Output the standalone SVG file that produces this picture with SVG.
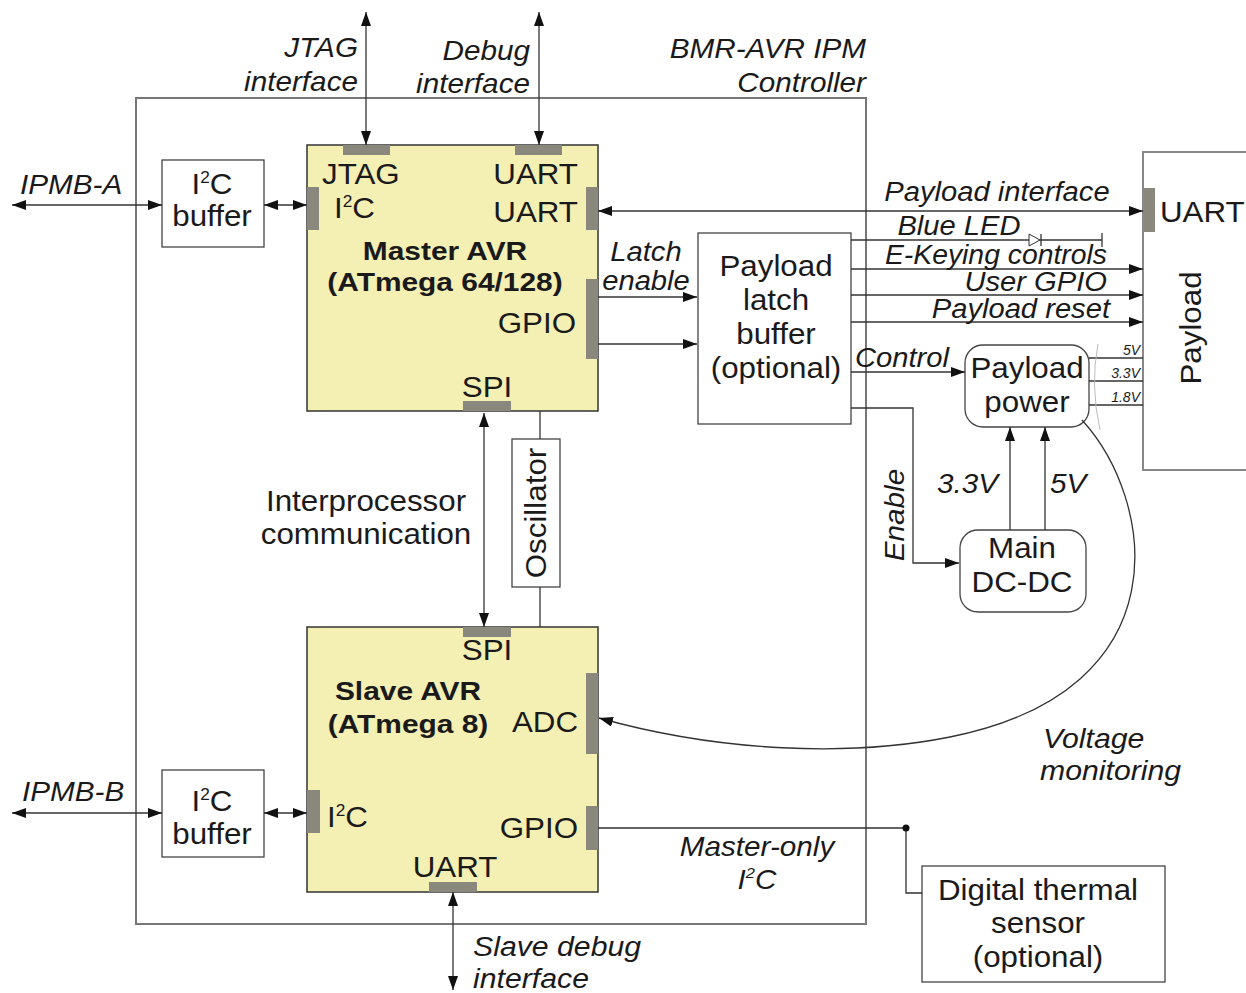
<svg xmlns="http://www.w3.org/2000/svg" width="1246" height="993" viewBox="0 0 1246 993">
<style>
.ln{stroke:#333;stroke-width:1.3;fill:none}
.box{stroke:#444;stroke-width:1.3;fill:#fff}
.outer{stroke:#777;stroke-width:2;fill:none}
.avr{stroke:#333;stroke-width:1.5;fill:#f4efb3}
.pad{fill:#8a877c}
text{font-family:"Liberation Sans",Arial,sans-serif;fill:#1a1a1a}
.r{font-size:29px}
.b{font-size:26px;font-weight:bold}
.i{font-size:27px;font-style:italic}
.s{font-size:14px;font-style:italic}
.m{text-anchor:middle}
.e{text-anchor:end}
</style>
<defs>
<marker id="a" viewBox="0 0 14 10" refX="14" refY="5" markerWidth="14" markerHeight="10" markerUnits="userSpaceOnUse" orient="auto-start-reverse">
<path d="M0,0 L14,5 L0,10 z" fill="#111"/>
</marker>
</defs>
<rect width="1246" height="993" fill="#fff"/>

<g id="controller">
<rect class="outer" x="136" y="98" width="730" height="826"/>
<text class="i e" transform="translate(866 58) scale(1.1 1)">BMR-AVR IPM</text>
<text class="i e" transform="translate(866 92) scale(1.1 1)">Controller</text>
</g>

<g id="master">
<rect class="avr" x="307" y="145" width="291" height="266"/>
<rect class="pad" x="343" y="145" width="47" height="10"/>
<rect class="pad" x="515" y="145" width="47" height="10"/>
<rect class="pad" x="307" y="187" width="12" height="43"/>
<rect class="pad" x="586" y="187" width="12" height="43"/>
<rect class="pad" x="586" y="279" width="12" height="80"/>
<rect class="pad" x="463" y="401" width="48" height="10"/>
<text class="r" transform="translate(322 184) scale(1.08 1)">JTAG</text>
<text class="r" transform="translate(334 218) scale(1.08 1)">I<tspan font-size="16" dy="-11">2</tspan><tspan dy="11">C</tspan></text>
<text class="r e" transform="translate(578 184) scale(1.08 1)">UART</text>
<text class="r e" transform="translate(578 222) scale(1.08 1)">UART</text>
<text class="b m" transform="translate(445 260) scale(1.15 1)">Master AVR</text>
<text class="b m" transform="translate(445 291) scale(1.15 1)">(ATmega 64/128)</text>
<text class="r e" transform="translate(576 333) scale(1.08 1)">GPIO</text>
<text class="r m" transform="translate(487 397) scale(1.08 1)">SPI</text>
</g>

<g id="slave">
<rect class="avr" x="307" y="627" width="291" height="265"/>
<rect class="pad" x="463" y="627" width="48" height="10"/>
<rect class="pad" x="586" y="673" width="12" height="81"/>
<rect class="pad" x="307" y="790" width="13" height="43"/>
<rect class="pad" x="586" y="806" width="12" height="44"/>
<rect class="pad" x="429" y="882" width="48" height="10"/>
<text class="r m" transform="translate(487 660) scale(1.08 1)">SPI</text>
<text class="b m" transform="translate(408 700) scale(1.15 1)">Slave AVR</text>
<text class="b m" transform="translate(408 733) scale(1.15 1)">(ATmega 8)</text>
<text class="r e" transform="translate(578 732) scale(1.08 1)">ADC</text>
<text class="r" transform="translate(327 827) scale(1.08 1)">I<tspan font-size="16" dy="-11">2</tspan><tspan dy="11">C</tspan></text>
<text class="r e" transform="translate(578 838) scale(1.08 1)">GPIO</text>
<text class="r m" transform="translate(455 877) scale(1.08 1)">UART</text>
</g>

<g id="i2c-buffer-a">
<rect class="box" x="162" y="160" width="102" height="87"/>
<text class="r m" transform="translate(212 194) scale(1.08 1)">I<tspan font-size="16" dy="-11">2</tspan><tspan dy="11">C</tspan></text>
<text class="r m" transform="translate(212 226) scale(1.08 1)">buffer</text>
</g>

<g id="i2c-buffer-b">
<rect class="box" x="162" y="770" width="102" height="87"/>
<text class="r m" transform="translate(212 811) scale(1.08 1)">I<tspan font-size="16" dy="-11">2</tspan><tspan dy="11">C</tspan></text>
<text class="r m" transform="translate(212 844) scale(1.08 1)">buffer</text>
</g>

<g id="oscillator">
<rect class="box" x="512" y="439" width="48" height="148"/>
<text class="r m" transform="translate(546 513) rotate(-90) scale(1.08 1)">Oscillator</text>
</g>

<g id="latch">
<rect class="box" x="698" y="233" width="153" height="191"/>
<text class="r m" transform="translate(776 276) scale(1.08 1)">Payload</text>
<text class="r m" transform="translate(776 310) scale(1.08 1)">latch</text>
<text class="r m" transform="translate(776 344) scale(1.08 1)">buffer</text>
<text class="r m" transform="translate(776 378) scale(1.08 1)">(optional)</text>
</g>

<g id="payload-power">
<rect class="box" x="965" y="345" width="124" height="82" rx="18"/>
<text class="r m" transform="translate(1027 378) scale(1.08 1)">Payload</text>
<text class="r m" transform="translate(1027 412) scale(1.08 1)">power</text>
</g>

<g id="main-dcdc">
<rect class="box" x="960" y="530" width="126" height="82" rx="18"/>
<text class="r m" transform="translate(1022 558) scale(1.08 1)">Main</text>
<text class="r m" transform="translate(1022 592) scale(1.08 1)">DC-DC</text>
</g>

<g id="payload">
<rect x="1143" y="152" width="130" height="318" fill="#fff" stroke="#888" stroke-width="2"/>
<rect class="pad" x="1144" y="188" width="11" height="44"/>
<text class="r" transform="translate(1160 222) scale(1.08 1)">UART</text>
<text class="r m" transform="translate(1201 328) rotate(-90) scale(1.08 1)">Payload</text>
</g>

<g id="thermal-sensor">
<rect class="box" x="922" y="866" width="243" height="116" stroke="#666"/>
<text class="r m" transform="translate(1038 900) scale(1.08 1)">Digital thermal</text>
<text class="r m" transform="translate(1038 933) scale(1.08 1)">sensor</text>
<text class="r m" transform="translate(1038 967) scale(1.08 1)">(optional)</text>
</g>

<g id="connectors">
<line class="ln" x1="366" y1="12" x2="366" y2="145" marker-start="url(#a)" marker-end="url(#a)"/>
<line class="ln" x1="539" y1="12" x2="539" y2="145" marker-start="url(#a)" marker-end="url(#a)"/>
<line class="ln" x1="12" y1="205" x2="162" y2="205" marker-start="url(#a)" marker-end="url(#a)"/>
<line class="ln" x1="264" y1="205" x2="307" y2="205" marker-start="url(#a)" marker-end="url(#a)"/>
<line class="ln" x1="12" y1="813" x2="162" y2="813" marker-start="url(#a)" marker-end="url(#a)"/>
<line class="ln" x1="264" y1="813" x2="307" y2="813" marker-start="url(#a)" marker-end="url(#a)"/>
<line class="ln" x1="484" y1="413" x2="484" y2="627" marker-start="url(#a)" marker-end="url(#a)"/>
<line class="ln" x1="540" y1="411" x2="540" y2="439"/>
<line class="ln" x1="540" y1="587" x2="540" y2="627"/>
<line class="ln" x1="598" y1="211" x2="1143" y2="211" marker-start="url(#a)" marker-end="url(#a)"/>
<line class="ln" x1="598" y1="297" x2="697" y2="297" marker-end="url(#a)"/>
<line class="ln" x1="598" y1="344" x2="697" y2="344" marker-end="url(#a)"/>
<line class="ln" x1="851" y1="240" x2="1102" y2="240" stroke="#555"/>
<path d="M1029,234 L1040,240 L1029,246 z" fill="#fff" stroke="#333" stroke-width="1"/>
<line class="ln" x1="1041" y1="234" x2="1041" y2="246" stroke-width="1"/>
<line class="ln" x1="1102" y1="233" x2="1102" y2="247" stroke-width="1"/>
<line class="ln" x1="851" y1="269" x2="1143" y2="269" marker-end="url(#a)"/>
<line class="ln" x1="851" y1="295" x2="1143" y2="295" marker-end="url(#a)"/>
<line class="ln" x1="851" y1="322" x2="1143" y2="322" marker-end="url(#a)"/>
<line class="ln" x1="851" y1="372" x2="965" y2="372" marker-end="url(#a)"/>
<polyline class="ln" points="851,408 913,408 913,563 959,563" marker-end="url(#a)"/>
<line class="ln" x1="1010" y1="530" x2="1010" y2="427" marker-end="url(#a)"/>
<line class="ln" x1="1045" y1="530" x2="1045" y2="427" marker-end="url(#a)"/>
<line class="ln" x1="1089" y1="358" x2="1143" y2="358"/>
<line class="ln" x1="1089" y1="381" x2="1143" y2="381"/>
<line class="ln" x1="1089" y1="405" x2="1143" y2="405"/>
<path d="M1098,344 Q1090,385 1100,430" fill="none" stroke="#bbb" stroke-width="1"/>
<path class="ln" d="M1082,420 C1155,500 1185,690 950,737 C850,757 720,752 599,718" stroke-width="1.2" marker-end="url(#a)"/>
<polyline class="ln" points="598,828 906,828 906,893 922,893"/>
<circle cx="906" cy="828" r="3.5" fill="#111"/>
<line class="ln" x1="453" y1="892" x2="453" y2="990" marker-start="url(#a)" marker-end="url(#a)"/>
</g>

<g id="labels">
<text class="i e" transform="translate(358 57) scale(1.1 1)">JTAG</text>
<text class="i e" transform="translate(358 91) scale(1.1 1)">interface</text>
<text class="i e" transform="translate(530 60) scale(1.1 1)">Debug</text>
<text class="i e" transform="translate(530 93) scale(1.1 1)">interface</text>
<text class="i" transform="translate(20 194) scale(1.1 1)">IPMB-A</text>
<text class="i" transform="translate(22 801) scale(1.1 1)">IPMB-B</text>
<text class="r m" transform="translate(366 511) scale(1.08 1)">Interprocessor</text>
<text class="r m" transform="translate(366 544) scale(1.08 1)">communication</text>
<text class="i m" transform="translate(646 261) scale(1.08 1)">Latch</text>
<text class="i m" transform="translate(646 290) scale(1.08 1)">enable</text>
<text class="i m" transform="translate(997 201) scale(1.08 1)">Payload interface</text>
<text class="i m" transform="translate(959 235) scale(1.08 1)">Blue LED</text>
<text class="i e" transform="translate(1107 264) scale(1.05 1)">E-Keying controls</text>
<text class="i e" transform="translate(1107 291) scale(1.08 1)">User GPIO</text>
<text class="i e" transform="translate(1110 318) scale(1.08 1)">Payload reset</text>
<text class="i" transform="translate(855 367) scale(1.08 1)">Control</text>
<text class="i m" transform="translate(904 515) rotate(-90) scale(1.1 1)">Enable</text>
<text class="i" transform="translate(937 493) scale(1.1 1)">3.3V</text>
<text class="i" transform="translate(1050 493) scale(1.1 1)">5V</text>
<text class="s e" x="1140" y="355">5V</text>
<text class="s e" x="1140" y="378">3.3V</text>
<text class="s e" x="1140" y="402">1.8V</text>
<text class="i" transform="translate(1043 748) scale(1.12 1)">Voltage</text>
<text class="i" transform="translate(1040 780) scale(1.12 1)">monitoring</text>
<text class="i m" transform="translate(757 856) scale(1.1 1)">Master-only</text>
<text class="i m" transform="translate(757 889) scale(1.1 1)">I<tspan font-size="15" dy="-11">2</tspan><tspan dy="11">C</tspan></text>
<text class="i" transform="translate(473 956) scale(1.12 1)">Slave debug</text>
<text class="i" transform="translate(473 988) scale(1.12 1)">interface</text>
</g>
</svg>
